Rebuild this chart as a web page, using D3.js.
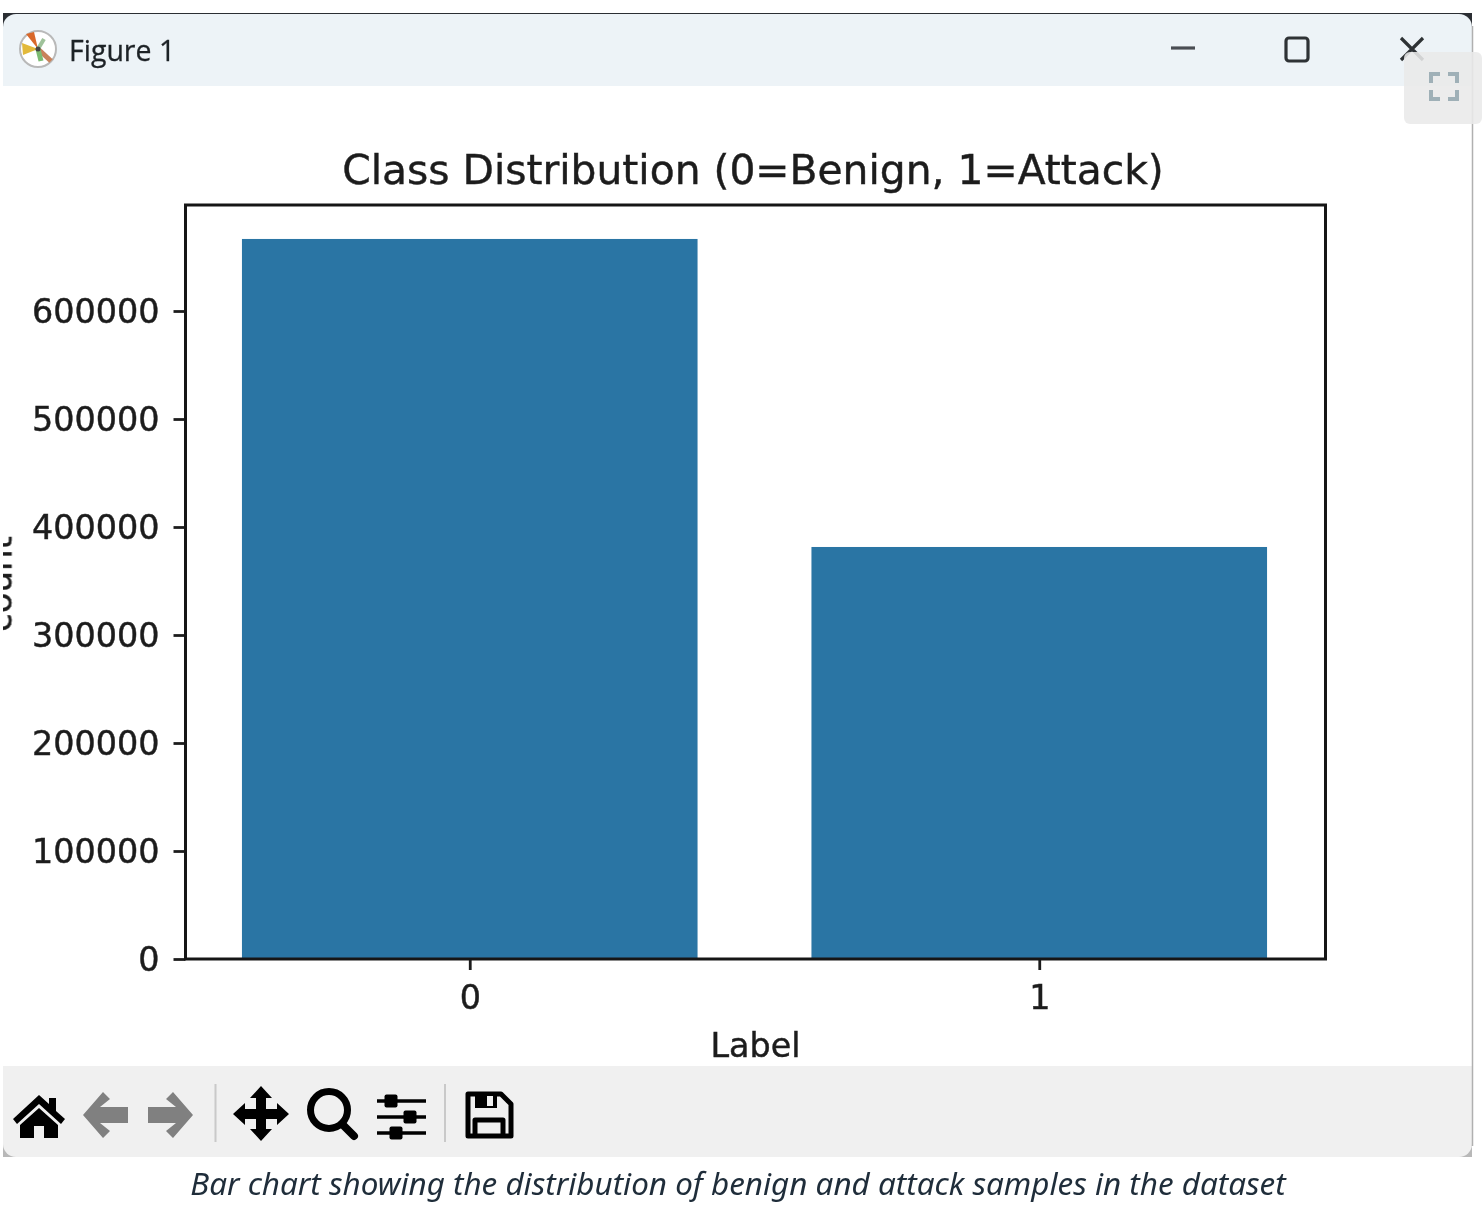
<!DOCTYPE html>
<html><head><meta charset="utf-8">
<script src="https://cdnjs.cloudflare.com/ajax/libs/d3/7.8.5/d3.min.js"></script>
<style>html,body{margin:0;padding:0;background:#fff;overflow:hidden}svg{display:block}</style>
</head><body><div id="chart"></div>
<script>
const categories = ["0", "1"];
const counts = [666700, 381500];
const yTicks = [0, 100000, 200000, 300000, 400000, 500000, 600000];
const chartTitle = "Class Distribution (0=Benign, 1=Attack)";
const xTitle = "Label", yTitle = "count";
const windowTitle = "Figure 1";
const caption = "Bar chart showing the distribution of benign and attack samples in the dataset";

const W = 1482, H = 1210, ink = "#1e1e1e", mono = '"DejaVu Sans", sans-serif';
const svg = d3.select("#chart").append("svg").attr("width", W).attr("height", H);
const defs = svg.append("defs");
defs.append("filter").attr("id", "soft").attr("x", "-5%").attr("y", "-5%").attr("width", "110%").attr("height", "110%")
  .append("feGaussianBlur").attr("stdDeviation", 0.75);
defs.append("clipPath").attr("id", "win").append("rect").attr("x", 3).attr("y", 14).attr("width", 1469).attr("height", 1143).attr("rx", 13);

// dark/grey slivers that show in the window's rounded corners
svg.append("rect").attr("x", 3).attr("y", 13).attr("width", 1469).attr("height", 24).attr("fill", "#2b2e33");
svg.append("rect").attr("x", 3).attr("y", 1135).attr("width", 1469).attr("height", 22).attr("fill", "#b8b8b8");

const win = svg.append("g").attr("clip-path", "url(#win)");
const soft = win.append("g").attr("filter", "url(#soft)");

// window frame
soft.append("rect").attr("x", 0).attr("y", 12).attr("width", W).attr("height", 1150).attr("fill", "#fff");
soft.append("rect").attr("x", 0).attr("y", 12).attr("width", W).attr("height", 74).attr("fill", "#edf3f7");
soft.append("rect").attr("x", 0).attr("y", 1066).attr("width", W).attr("height", 100).attr("fill", "#f0f0f0");

// logo
const logo = soft.append("g").attr("transform", "translate(38,49)");
logo.append("circle").attr("r", 18).attr("fill", "#fff").attr("stroke", "#b9b9b9").attr("stroke-width", 2);
logo.append("path").attr("d", "M0,0L-12,-15L-4,-17Z").attr("fill", "#d9682c");
logo.append("path").attr("d", "M0,0L13,12").attr("stroke", "#c9825a").attr("stroke-width", 5);
logo.append("path").attr("d", "M0,0L-16,-6L-15,6Z").attr("fill", "#e2b93b");
logo.append("path").attr("d", "M0,0L3,12").attr("stroke", "#7cbb72").attr("stroke-width", 5);
logo.append("path").attr("d", "M0,0L6,-10").attr("stroke", "#9fc29a").attr("stroke-width", 4);
logo.append("circle").attr("r", 2.5).attr("fill", "#444");

soft.append("text").text(windowTitle).attr("x", 69).attr("y", 61).attr("font-family", '"Open Sans", sans-serif').attr("font-size", 28.5).attr("fill", "#1e2226").attr("stroke", "#1e2226").attr("stroke-width", 0.3);

// window controls
const ctl = soft.append("g").attr("fill", "none").attr("stroke", "#2e3235").attr("stroke-width", 3.2);
ctl.append("path").attr("d", "M1171,48H1195").attr("stroke", "#4a4e52");
ctl.append("rect").attr("x", 1286).attr("y", 38).attr("width", 22).attr("height", 23).attr("rx", 3);
ctl.append("path").attr("d", "M1401,38L1423,60M1423,38L1401,60");

// ---- chart ----
const axL = 185.5, axR = 1325.5, axT = 205, axB = 959;
const x = d3.scaleBand().domain(categories).range([185, 1324]).paddingInner(0.2).paddingOuter(0.1);
const y = d3.scaleLinear().domain([0, 698150]).range([axB, axT]);

const plot = soft.append("g");
plot.selectAll("rect.bar").data(categories).join("rect").attr("class", "bar")
  .attr("x", d => x(d)).attr("width", x.bandwidth())
  .attr("y", (d, i) => y(counts[i])).attr("height", (d, i) => y(0) - y(counts[i]))
  .attr("fill", "#2c75a4");

function styleAxis(g) {
  g.selectAll(".domain").remove();
  g.selectAll("line").attr("stroke", ink).attr("stroke-width", 2.8);
  g.selectAll("text").attr("font-family", mono).attr("font-size", 33.4).attr("fill", ink)
    .attr("stroke", ink).attr("stroke-width", 0.45);
}
plot.append("g").attr("transform", `translate(${axL},0)`)
  .call(d3.axisLeft(y).tickValues(yTicks).tickFormat(d3.format("d")).tickSize(12).tickPadding(14))
  .call(styleAxis).selectAll("text").attr("dy", "0.35em");
plot.append("g").attr("transform", `translate(0.5,${axB})`)
  .call(d3.axisBottom(x).tickSize(11).tickPadding(15))
  .call(styleAxis);

plot.append("rect").attr("x", axL).attr("y", axT).attr("width", axR - axL).attr("height", axB - axT)
  .attr("fill", "none").attr("stroke", "#161616").attr("stroke-width", 3);

plot.append("text").text(chartTitle).attr("x", 753).attr("y", 183.5).attr("text-anchor", "middle")
  .attr("font-family", mono).attr("font-size", 40.8).attr("fill", ink).attr("stroke", ink).attr("stroke-width", 0.45);
plot.append("text").text(xTitle).attr("x", 755.5).attr("y", 1057).attr("text-anchor", "middle")
  .attr("font-family", mono).attr("font-size", 33.4).attr("fill", ink).attr("stroke", ink).attr("stroke-width", 0.45);
plot.append("text").text(yTitle).attr("transform", "translate(11.5,584) rotate(-90)").attr("text-anchor", "middle")
  .attr("font-family", mono).attr("font-size", 34).attr("fill", ink).attr("stroke", ink).attr("stroke-width", 0.45);

// ---- toolbar icons ----
const tb = soft.append("g");
tb.append("path").attr("fill", "#000").attr("d",
  "M39,1095L13,1119L17,1124L39,1104L61,1124L65,1119L56,1111V1098H49V1104Z" +
  "M39,1108L20,1125V1138H34V1126H44V1138H58V1125Z");
const arrow = "M-22,0L-2,-23L5,-16L-5,-8H23V8H-5L5,16L-2,23Z";
tb.append("path").attr("fill", "#808080").attr("transform", "translate(105,1115)").attr("d", arrow);
tb.append("path").attr("fill", "#808080").attr("transform", "translate(171,1115) scale(-1,1)").attr("d", arrow);
tb.append("path").attr("fill", "#000").attr("d",
  "M261,1086L272,1098H266V1109H277V1103L289,1114L277,1125V1119H266V1129H272L261,1141L250,1129H256V1119H245V1125L233,1114L245,1103V1109H256V1098H250Z");
tb.append("circle").attr("cx", 329).attr("cy", 1110).attr("r", 18.5).attr("fill", "none").attr("stroke", "#000").attr("stroke-width", 7);
tb.append("path").attr("d", "M342,1124L354,1136").attr("stroke", "#000").attr("stroke-width", 8).attr("stroke-linecap", "round");
[[1101, 391], [1117, 410], [1133, 396]].forEach(r => {
  tb.append("path").attr("d", `M377,${r[0]}H426`).attr("stroke", "#000").attr("stroke-width", 3.5);
  tb.append("rect").attr("x", r[1] - 6.5).attr("y", r[0] - 6.5).attr("width", 13).attr("height", 13).attr("rx", 2).attr("fill", "#000");
});
tb.append("path").attr("fill", "none").attr("stroke", "#000").attr("stroke-width", 5).attr("stroke-linejoin", "round")
  .attr("d", "M468,1094H501L511,1104V1136H468ZM475,1136V1120H503V1136");
tb.append("rect").attr("x", 475).attr("y", 1094).attr("width", 22).attr("height", 14).attr("fill", "#000");
tb.append("rect").attr("x", 487).attr("y", 1096).attr("width", 6).attr("height", 10).attr("fill", "#f0f0f0");
[215.5, 445].forEach(sx => tb.append("path").attr("d", `M${sx},1084V1142`).attr("stroke", "#c9c9c9").attr("stroke-width", 2));

// right window edge, fullscreen button and caption (outside clip)
svg.append("path").attr("d", "M1472.5,26V1146").attr("stroke", "#b0b0b0").attr("stroke-width", 1.5).attr("fill", "none");
svg.append("rect").attr("x", 1404).attr("y", 52).attr("width", 78).attr("height", 72).attr("rx", 6).attr("fill", "#e9e9e9").attr("fill-opacity", 0.88);
svg.append("path").attr("fill", "none").attr("stroke", "#9fb0b7").attr("stroke-width", 4)
  .attr("d", "M1431,83V74H1440M1448,74H1457V83M1457,90V99H1448M1440,99H1431V90");
svg.append("text").text(caption).attr("x", 738).attr("y", 1195).attr("text-anchor", "middle")
  .attr("font-family", '"Noto Sans", sans-serif').attr("font-style", "italic").attr("font-size", 31.4).attr("fill", "#1f2d3a");
</script></body></html>
